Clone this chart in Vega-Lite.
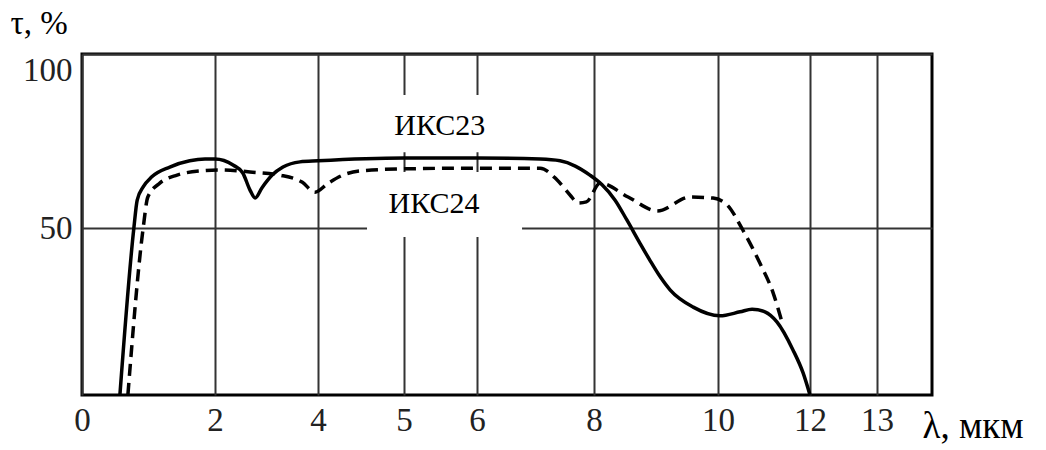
{
  "$schema": "https://vega.github.io/schema/vega-lite/v6.json",
  "autosize": {"type": "none"},
  "width": 850,
  "height": 341,
  "padding": {"left": 82, "top": 54, "right": 114, "bottom": 55},
  "background": "white",
  "config": {
    "view": {"stroke": "black", "strokeWidth": 3},
    "font": "Liberation Serif"
  },
  "datasets": {
    "boxes": [
      {"lam": 4.57, "lam2": 6.77, "tau": 88.2, "tau2": 71.8},
      {"lam": 4.57, "lam2": 6.77, "tau": 66.1, "tau2": 47.3}
    ],
    "labels": [
      {"lam": 5.49, "tau": 76.7, "label": "ИКС23"},
      {"lam": 5.41, "tau": 54.3, "label": "ИКС24"}
    ],
    "iks23": [
      {"lam": 0.57, "tau": 0},
      {"lam": 0.78, "tau": 50},
      {"lam": 0.83, "tau": 58.0},
      {"lam": 0.92, "tau": 61.8},
      {"lam": 1.05, "tau": 64.7},
      {"lam": 1.32, "tau": 67.5},
      {"lam": 1.62, "tau": 69.3},
      {"lam": 1.85, "tau": 69.8},
      {"lam": 2.0, "tau": 69.8},
      {"lam": 2.35, "tau": 68.1},
      {"lam": 2.54, "tau": 65.8},
      {"lam": 2.68, "tau": 60.9},
      {"lam": 2.78, "tau": 58.6},
      {"lam": 2.91, "tau": 61.5},
      {"lam": 3.11, "tau": 65.2},
      {"lam": 3.32, "tau": 67.5},
      {"lam": 3.65, "tau": 69.0},
      {"lam": 4.0, "tau": 69.3},
      {"lam": 5.0, "tau": 70.1},
      {"lam": 6.0, "tau": 70.1},
      {"lam": 7.08, "tau": 69.8},
      {"lam": 7.42, "tau": 69.3},
      {"lam": 7.68, "tau": 67.8},
      {"lam": 7.93, "tau": 65.2},
      {"lam": 8.13, "tau": 62.4},
      {"lam": 8.34, "tau": 58.0},
      {"lam": 8.53, "tau": 52.3},
      {"lam": 8.74, "tau": 45.5},
      {"lam": 8.9, "tau": 40.4},
      {"lam": 9.06, "tau": 35.6},
      {"lam": 9.23, "tau": 31.4},
      {"lam": 9.6, "tau": 26.3},
      {"lam": 10.04, "tau": 23.7},
      {"lam": 10.48, "tau": 24.9},
      {"lam": 10.74, "tau": 25.7},
      {"lam": 11.02, "tau": 24.9},
      {"lam": 11.28, "tau": 21.9},
      {"lam": 11.63, "tau": 13.5},
      {"lam": 11.85, "tau": 6.6},
      {"lam": 12.0, "tau": 0}
    ],
    "iks24": [
      {"lam": 0.69, "tau": 0},
      {"lam": 0.92, "tau": 50},
      {"lam": 0.99, "tau": 58.9},
      {"lam": 1.17, "tau": 62.9},
      {"lam": 1.43, "tau": 65.2},
      {"lam": 1.78, "tau": 66.4},
      {"lam": 2.14, "tau": 66.7},
      {"lam": 2.68, "tau": 66.1},
      {"lam": 3.26, "tau": 65.2},
      {"lam": 3.69, "tau": 63.2},
      {"lam": 3.94, "tau": 60.3},
      {"lam": 4.12, "tau": 62.9},
      {"lam": 4.29, "tau": 65.2},
      {"lam": 4.49, "tau": 66.4},
      {"lam": 5.0, "tau": 67.0},
      {"lam": 6.0, "tau": 67.2},
      {"lam": 7.08, "tau": 67.2},
      {"lam": 7.37, "tau": 63.8},
      {"lam": 7.59, "tau": 59.5},
      {"lam": 7.73, "tau": 57.2},
      {"lam": 7.87, "tau": 57.5},
      {"lam": 8.1, "tau": 62.9},
      {"lam": 8.55, "tau": 58.9},
      {"lam": 9.02, "tau": 54.9},
      {"lam": 9.55, "tau": 58.9},
      {"lam": 9.92, "tau": 58.6},
      {"lam": 10.2, "tau": 56.6},
      {"lam": 10.54, "tau": 49.4},
      {"lam": 10.91, "tau": 39.5},
      {"lam": 11.2, "tau": 30.5},
      {"lam": 11.39, "tau": 21.9}
    ]
  },
  "encoding": {
    "x": {
      "field": "lam",
      "type": "quantitative",
      "scale": {
        "type": "linear",
        "domain": [0, 2, 4, 5, 6, 8, 10, 12, 13, 14],
        "range": [0, 133, 236, 322, 395, 512, 636, 728, 795, 850],
        "nice": false,
        "zero": false
      },
      "axis": {
        "values": [0, 2, 4, 5, 6, 8, 10, 12, 13],
        "grid": true,
        "gridColor": "#333333",
        "gridWidth": 2,
        "gridOpacity": 1,
        "domain": false,
        "ticks": false,
        "labelFont": "Liberation Serif",
        "labelFontSize": 33,
        "labelColor": "#222222",
        "labelPadding": 9,
        "labelFlush": false,
        "labelOverlap": false,
        "title": "λ, мкм",
        "titleFont": "Liberation Serif",
        "titleFontSize": 37,
        "titleFontWeight": "normal",
        "titleColor": "black",
        "titleX": 840,
        "titleY": 42,
        "titleAlign": "left",
        "titleBaseline": "alphabetic",
        "titleAngle": 0
      }
    },
    "y": {
      "field": "tau",
      "type": "quantitative",
      "scale": {
        "type": "linear",
        "domain": [0, 50, 100],
        "range": [341, 174, 0],
        "nice": false,
        "zero": false
      },
      "axis": {
        "values": [50, 100],
        "grid": true,
        "gridColor": "#333333",
        "gridWidth": 2,
        "gridOpacity": 1,
        "domain": false,
        "ticks": false,
        "labelFont": "Liberation Serif",
        "labelFontSize": 33,
        "labelColor": "#222222",
        "labelPadding": 10,
        "labelFlush": true,
        "labelFlushOffset": 0,
        "labelOverlap": false,
        "title": "τ, %",
        "titleFont": "Liberation Serif",
        "titleFontSize": 33,
        "titleFontWeight": "normal",
        "titleColor": "black",
        "titleAngle": 0,
        "titleX": -72,
        "titleY": -21,
        "titleAlign": "left",
        "titleBaseline": "alphabetic"
      }
    }
  },
  "layer": [
    {
      "data": {"name": "boxes"},
      "mark": {"type": "rect", "fill": "white", "stroke": null},
      "encoding": {
        "x2": {"field": "lam2"},
        "y2": {"field": "tau2"}
      }
    },
    {
      "data": {"name": "iks24"},
      "mark": {"type": "line", "color": "black", "strokeWidth": 3.5, "strokeDash": [12, 7], "interpolate": "monotone"},
      "encoding": {}
    },
    {
      "data": {"name": "iks23"},
      "mark": {"type": "line", "color": "black", "strokeWidth": 3.5, "interpolate": "monotone"},
      "encoding": {}
    },
    {
      "data": {"name": "labels"},
      "mark": {"type": "text", "font": "Liberation Serif", "fontSize": 30, "align": "center", "baseline": "alphabetic", "color": "black"},
      "encoding": {
        "text": {"field": "label"}
      }
    }
  ]
}
